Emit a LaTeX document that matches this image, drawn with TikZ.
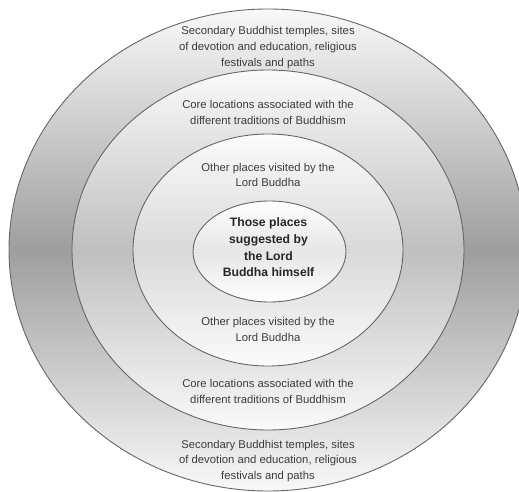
\documentclass[tikz,border=0pt]{standalone}
\usepackage{fontspec}
\setmainfont{Liberation Sans}
\usetikzlibrary{shapes.geometric}
\definecolor{ringline}{HTML}{666666}
\definecolor{labeltext}{HTML}{3C3C3C}
\tikzset{
  ring/.style={draw=ringline, line width=0.9pt},
  lbl/.style={align=center, text=labeltext, inner sep=0pt,
    font=\fontsize{11.3}{15.6}\selectfont},
  corelbl/.style={align=center, text=black!85, inner sep=0pt,
    font=\bfseries\fontsize{12.2}{16.6}\selectfont}
}
\begin{document}
\begin{tikzpicture}[x=1pt,y=-1pt]
\useasboundingbox (0,0) rectangle (519,492);
\clip (0,0) rectangle (519,492);
\coordinate (c) at (268,250);
\path[ring, top color=white!95!gray, bottom color=white!95!gray, middle color=black!38] (c) ellipse [x radius=259, y radius=241];
\path[ring, top color=white!96!gray, bottom color=white!96!gray, middle color=black!25] (c) ellipse [x radius=196, y radius=180];
\path[ring, top color=white!97!gray, bottom color=white!97!gray, middle color=black!15] (c) ellipse [x radius=135, y radius=116];
\path[ring, top color=white, bottom color=white, middle color=black!10] (269.5,251.5) ellipse [x radius=76.5, y radius=50.5];

\node[lbl] (o1) at (268,47.5) {Secondary Buddhist temples, sites\\of devotion and education, religious\\festivals and paths};
\node[lbl] (m1) at (268,112.5) {Core locations associated with the\\different traditions of Buddhism};
\node[lbl] (i1) at (268,175) {Other places visited by the\\Lord Buddha};
\node[corelbl] (core) at (268.5,247.5) {Those places\\suggested by\\the Lord\\Buddha himself};
\node[lbl] (i2) at (268,329.5) {Other places visited by the\\Lord Buddha};
\node[lbl] (m2) at (268,391.5) {Core locations associated with the\\different traditions of Buddhism};
\node[lbl] (o2) at (268,461) {Secondary Buddhist temples, sites\\of devotion and education, religious\\festivals and paths};
\end{tikzpicture}
\end{document}
